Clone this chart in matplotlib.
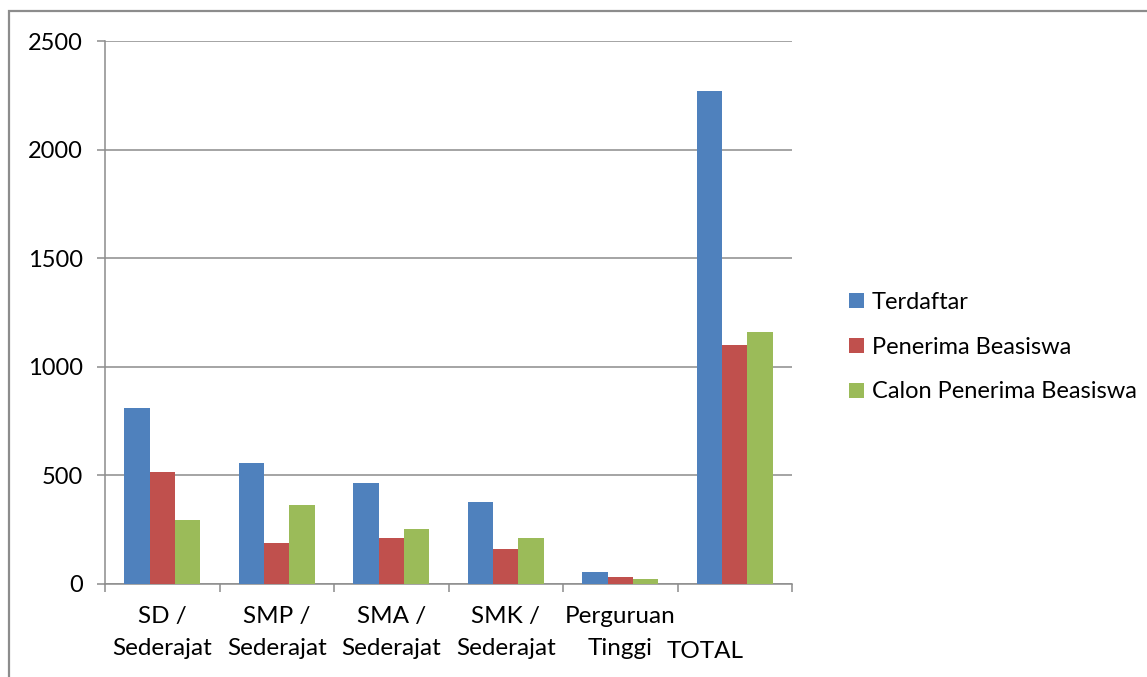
import numpy as np
import matplotlib
matplotlib.use("Agg")
import matplotlib.pyplot as plt
import matplotlib.transforms as mtransforms
from matplotlib.patches import Rectangle

categories = ["SD /\nSederajat", "SMP /\nSederajat", "SMA /\nSederajat",
              "SMK /\nSederajat", "Perguruan\nTinggi", "TOTAL"]
terdaftar = [809, 556, 466, 377, 54, 2269]
penerima = [516, 188, 214, 160, 32, 1101]
calon = [295, 366, 254, 212, 25, 1161]

series_names = ["Terdaftar", "Penerima Beasiswa", "Calon Penerima Beasiswa"]
colors = ["#4F81BD", "#C0504D", "#9BBB59"]
yticks = [0, 500, 1000, 1500, 2000, 2500]

plt.rcParams["font.family"] = ["Lato", "DejaVu Sans"]
plt.rcParams["font.size"] = 17

fig = plt.figure(figsize=(11.47, 6.77), dpi=100)
ax = fig.add_axes([105 / 1147, 1 - 584 / 677, (792 - 105) / 1147, (584 - 41) / 677])

# outer chart border
fig.patches.append(Rectangle((9 / 1147, -0.1), 1.2, 1 - 11 / 677 + 0.1,
                             transform=fig.transFigure, fill=False,
                             edgecolor="#8c8c8c", linewidth=1.6))

x = np.arange(len(categories))
w = 1 / 4.5
for k, (vals, name, col) in enumerate(zip([terdaftar, penerima, calon], series_names, colors)):
    ax.bar(x + (k - 1) * w, vals, width=w, color=col, label=name, zorder=3)

ax.set_xlim(-0.5, len(categories) - 0.5)
ax.set_ylim(0, 2500)
ax.set_yticks(yticks)
ax.yaxis.grid(True, color="#8c8c8c", linewidth=1.1, zorder=0)

ax.set_xticks(x)
ax.set_xticklabels(categories, fontsize=17.5, linespacing=1.65)
ax.set_xticks(np.arange(-0.5, len(categories)), minor=True)
ax.tick_params(axis="x", which="major", length=0, pad=16)
ax.tick_params(axis="x", which="minor", length=6, width=1.1, color="#8c8c8c", direction="out")
ax.tick_params(axis="y", length=6, width=1.1, color="#8c8c8c", direction="out", pad=10)

# TOTAL sits on the second label row, just left of its category centre
total = ax.get_xticklabels()[-1]
total.set_ha("right")
total.set_transform(total.get_transform() +
                    mtransforms.ScaledTranslation(0.09, -0.35, fig.dpi_scale_trans))

for s in ["top", "right"]:
    ax.spines[s].set_visible(False)
for s in ["left", "bottom"]:
    ax.spines[s].set_color("#8c8c8c")
    ax.spines[s].set_linewidth(1.1)

fig.legend(loc="center left", bbox_to_anchor=(0.722, 0.487), frameon=False,
           handlelength=0.6, handleheight=0.6, handletextpad=0.35,
           labelspacing=1.0, fontsize=17)

fig.savefig("out.png", dpi=100)
